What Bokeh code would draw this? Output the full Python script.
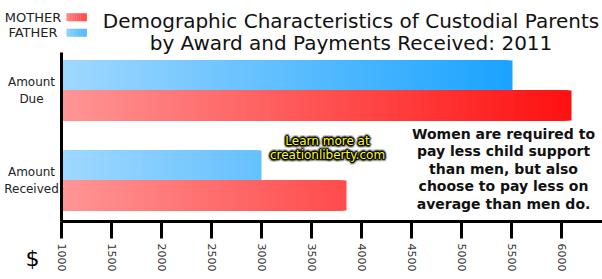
import math
import numpy as np
from bokeh.plotting import figure
from bokeh.models import Range1d, FixedTicker, Label, BoxAnnotation, ColumnDataSource
from bokeh.embed import file_html
from bokeh.resources import INLINE

# ---------------- data ----------------
categories = ["Amount Due", "Amount Received"]
category_labels = ["Amount\nDue", "Amount\nReceived"]
mother_values = [6100, 3850]
father_values = [5510, 3000]
series_names = ["MOTHER", "FATHER"]
x_ticks = [1000, 1500, 2000, 2500, 3000, 3500, 4000, 4500, 5000, 5500, 6000]
x_tick_labels = ["1000", "1500", "2000", "2500", "3000", "3500", "4000",
                 "4500", "5000", "5500", "6000"]
title_lines = ["Demographic Characteristics of Custodial Parents",
               "by Award and Payments Received: 2011"]
note_lines = ["Women are required to", "pay less child support",
              "than men, but also", "choose to pay less on",
              "average than men do."]
promo_lines = ["Learn more at", "creationliberty.com"]
currency_label = "$"

# ---------------- layout / style ----------------
W, H = 602, 279
AX_X, AX_TOP, AX_BOT = 61, 52, 221     # pixel position of the axes
FONT = "DejaVu Sans"
base = 1000
ppx = 0.1          # px per value unit
ppy = 90.0         # px per category step
row0_py = 180.0    # pixel of category index 0 (bottom row) centre

x_start = base - AX_X / ppx
x_end = x_start + W / ppx
y_end = row0_py / ppy
y_start = (row0_py - H) / ppy
y_axis_bot = (row0_py - AX_BOT) / ppy
y_axis_top = (row0_py - AX_TOP) / ppy

mother_colors = ((255, 150, 150), (255, 16, 16))
father_colors = ((160, 216, 255), (26, 163, 255))


def lerp_color(c0, c1, t):
    t = min(max(t, 0.0), 1.0)
    return "#%02x%02x%02x" % tuple(int(round(a + (b - a) * t)) for a, b in zip(c0, c1))


def sx(px):
    return px


def sy(py):
    return H - py


p = figure(width=W, height=H, output_backend="svg", toolbar_location=None,
           x_range=Range1d(x_start, x_end), y_range=Range1d(y_start, y_end),
           min_border=0, outline_line_color=None,
           background_fill_color="white", border_fill_color="white")
p.grid.visible = False

# ---------------- gradient bars ----------------
n = len(categories)
centers = [n - 1 - i for i in range(n)]
bar_h = 1 / 3
step = 20
for values, colors, offset in ((father_values, father_colors, bar_h / 2),
                               (mother_values, mother_colors, -bar_h / 2)):
    grad_end = max(values)
    lefts, rights, tops, bottoms, fills = [], [], [], [], []
    for c, v in zip(centers, values):
        for r in np.arange(v, base, -step):
            lefts.append(base)
            rights.append(float(r))
            tops.append(c + offset + bar_h / 2)
            bottoms.append(c + offset - bar_h / 2)
            fills.append(lerp_color(colors[0], colors[1],
                                    (r - step / 2 - base) / (grad_end - base)))
    src = ColumnDataSource(dict(left=lefts, right=rights, top=tops,
                                bottom=bottoms, color=fills))
    p.quad(left="left", right="right", top="top", bottom="bottom",
           fill_color="color", line_color=None, source=src)

# ---------------- axes ----------------
xa = p.xaxis[0]
xa.fixed_location = y_axis_bot
xa.bounds = (base, x_end)
xa.ticker = FixedTicker(ticks=x_ticks)
xa.major_label_overrides = {t: l for t, l in zip(x_ticks, x_tick_labels)}
xa.axis_line_width = 3
xa.axis_line_color = "black"
xa.major_tick_line_width = 3
xa.major_tick_line_color = "black"
xa.major_tick_out = 17
xa.major_tick_in = 0
xa.minor_tick_line_color = None
xa.major_label_orientation = -math.pi / 2
xa.major_label_standoff = 5
xa.major_label_text_font = FONT
xa.major_label_text_font_size = "11px"
xa.major_label_text_color = "#333333"

ya = p.yaxis[0]
ya.fixed_location = base
ya.bounds = (y_axis_bot, y_axis_top)
ya.ticker = FixedTicker(ticks=centers)
ya.axis_line_width = 3
ya.axis_line_color = "black"
ya.major_tick_line_color = None
ya.major_tick_out = 0
ya.major_tick_in = 0
ya.minor_tick_line_color = None
ya.major_label_text_color = None

# category labels, centred lines, left of the value axis
cat_src = ColumnDataSource(dict(x=[base] * n, y=centers, text=category_labels))
p.text(x="x", y="y", text="text", source=cat_src, x_offset=-30,
       text_align="center", text_baseline="middle", text_font_size="12px",
       text_font={"value": FONT}, text_color="#222222", text_line_height=1.15)


def add_label(text, x, y, size, color="#111111", align="center",
              baseline="middle", style="normal", alpha=1.0):
    p.add_layout(Label(x=sx(x), y=sy(y), x_units="screen", y_units="screen",
                       text=text, text_align=align, text_baseline=baseline,
                       text_font=FONT, text_font_size=size,
                       text_font_style=style, text_color=color,
                       text_alpha=alpha))


# title
add_label(title_lines[0], 350.5, 20, "20px", baseline="alphabetic")
add_label(title_lines[1], 350.5, 42.7, "20px", baseline="alphabetic")

# legend
legend_specs = [(series_names[0], 16.5, 12.7, 20.7, mother_colors),
                (series_names[1], 32.2, 28.3, 36.3, father_colors)]
for name, ty, top, bot, cols in legend_specs:
    add_label(name, 32.5, ty, "13px", color="#222222")
    nsl = 10
    for k in range(nsl):
        l = 66 + 20 * k / nsl
        rgt = 66 + 20 * (k + 1) / nsl
        col = lerp_color(cols[0], cols[1], 0.15 + 0.5 * (k + 0.5) / nsl)
        p.add_layout(BoxAnnotation(left=sx(l), right=sx(rgt) + 0.3,
                                   top=sy(top), bottom=sy(bot),
                                   left_units="screen", right_units="screen",
                                   top_units="screen", bottom_units="screen",
                                   fill_color=col, fill_alpha=1.0,
                                   line_color=None))

# note block
for i, line in enumerate(note_lines):
    add_label(line, 503, 133 + i * 17.5, "14px", style="bold")

# promo with glow
promo_y = [140.5, 154.5]
for line, yy in zip(promo_lines, promo_y):
    for r, a in ((3.0, 0.15), (2.0, 0.35), (1.0, 0.65)):
        for ang in range(0, 360, 30):
            dx = r * math.cos(math.radians(ang))
            dy = r * math.sin(math.radians(ang))
            add_label(line, 327 + dx, yy + dy, "12px", color="black", alpha=a)
    add_label(line, 327, yy, "12px", color="#ffff00")

# currency sign
add_label(currency_label, 32, 258, "22px", color="black")

open("out.html", "w").write(file_html(p, INLINE))
